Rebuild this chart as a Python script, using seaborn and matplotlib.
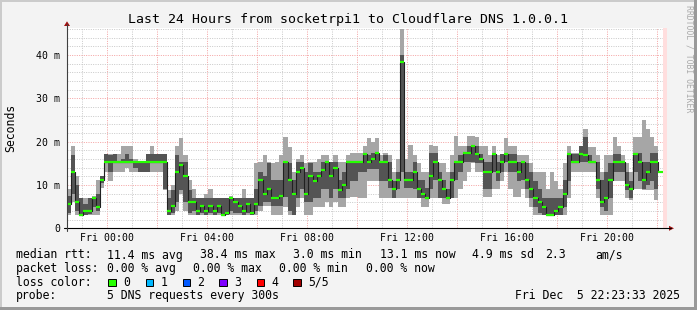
import numpy as np
import matplotlib
matplotlib.use("Agg")
import matplotlib.pyplot as plt
import seaborn as sns
from matplotlib.patches import Polygon, Rectangle
from matplotlib.lines import Line2D

# ---------------- data (10-minute steps starting Thu 22:24) ----------------
step_start_hour = -1.6          # hours relative to Fri 00:00
step_hours = 1.0 / 6.0

rtt_min = [3.1, 6, 3, 3, 3, 3, 3.1, 3.1, 9.2, 13.1, 11, 13.1, 13.1, 13.1, 14, 13.1, 13.1, 13.1, 13.1, 13.1, 13.1, 13.1, 13.1, 8.8,
           3.1, 3.1, 4, 8, 4, 3.1, 3.1, 3.1, 3.1, 3.1, 3.1, 3.1, 3.1, 3.0, 3.1, 3.1, 3.1, 3.1, 3.1, 3.1, 3.1, 3.1, 4, 5.2,
           5.2, 3.1, 3.1, 3.1, 5, 3, 3.1, 5, 7, 3.1, 3.1, 5, 5, 5, 6, 5, 6, 5, 5, 7, 7.2, 7.2, 7, 7,
           11, 11, 11, 6.9, 6.9, 6.9, 6.9, 6.9, 7, 6.9, 6.9, 6.9, 6.9, 5, 5, 6.9, 6.9, 6.9, 5.5, 5.5, 6.9, 7, 9, 11,
           13.1, 15, 13, 13, 7.2, 7.2, 9, 9, 11, 13.1, 9, 7.2, 7.2, 9, 7.1, 5, 3.1, 3.1, 3.1, 3.0, 3.0, 3.1, 3.1, 3.1,
           7, 13.1, 13.1, 13.1, 13.1, 13.1, 13.1, 7, 3.1, 3.1, 3.1, 11, 11, 11, 7.1, 6.5, 9, 9, 8.8, 8.8, 8.8, 6.5, 6.5, np.nan]
rtt_q1 = [3.5, 8, 4, 3.1, 3.1, 3.2, 5, 4, 10.5, 15, 13.1, 15.2, 15, 15.2, 15.2, 15.2, 14, 13.1, 13.1, 13.1, 15.2, 15.2, 15, 9,
          3.1, 3.5, 6, 8.8, 6, 3.5, 4, 3.1, 3.5, 3.1, 3.5, 3.1, 3.5, 3.1, 3.1, 4, 3.5, 3.5, 3.1, 3.5, 3.1, 4, 5.2, 6,
          6, 5.2, 5.2, 5.2, 7.3, 4, 3.1, 7, 9, 6, 6, 7, 7, 9, 9, 7, 9, 7, 7, 9, 11, 11, 13.1, 13.1,
          13.8, 13.8, 13.8, 11, 11, 9.2, 7, 9, 13, 9.2, 9.2, 9, 7.1, 6.9, 6.9, 9, 11.2, 7, 6.9, 6.9, 7, 11.2, 13, 15.2,
          15.2, 15.2, 15, 15, 9, 9, 13.1, 11, 13.1, 15.2, 13.1, 13.1, 11, 11.2, 9, 7, 5, 3.5, 3.1, 3.1, 3.1, 3.1, 3.1, 5,
          11, 15, 15, 15.2, 15.2, 15, 15, 9, 5, 4, 7, 13.1, 13.1, 13.1, 8.8, 7, 13, 11, 9, 10, 11, 9, 9, np.nan]
rtt_median = [5.5, 13, 6, 3.1, 4, 4, 7, 5, 11.2, 15.2, 15.2, 15.2, 15.2, 15.2, 15.2, 15.2, 15.2, 15.2, 15.2, 15.2, 15.2, 15.2, 15.2, 15.2,
              4, 5.2, 13, 14.5, 12, 6, 6, 4, 5.2, 4, 5.2, 4, 5.2, 3.1, 3.5, 7.1, 6, 5.2, 4, 5.5, 3.5, 5.5, 11.2, 8,
              9, 7.1, 7.1, 7.5, 15.2, 11.2, 8, 13.1, 14, 8, 12, 11, 12, 13.5, 15.2, 12, 14, 8.8, 10, 15.2, 15.2, 15.2, 15.2, 17.2,
              15.2, 16, 17.3, 15.2, 15.2, 11.2, 9.1, 11.2, 38.4, 11.2, 11.2, 13.1, 9.1, 8, 7.1, 12, 15.2, 11.2, 9, 7.1, 11.2, 15.2, 15.2, 17.3,
              17.3, 19, 17.2, 16, 13.1, 13.1, 17.2, 13.1, 15.2, 17.2, 15.2, 15.2, 13.1, 15.2, 11.2, 9, 7.1, 6, 5, 3.1, 3.1, 4, 5, 8,
              17.1, 15.2, 15.2, 17.1, 17, 15.2, 15.2, 11.2, 6, 7, 11.2, 15.2, 15.2, 15.2, 10, 9, 17.1, 15.2, 11.2, 13.1, 15.2, 15.2, 13.1, np.nan]
rtt_q3 = [7.5, 17, 10, 6.9, 5.5, 6.9, 7.1, 8, 12, 17.2, 17, 17.2, 15.5, 16, 17.2, 16, 15.2, 15.3, 15.3, 17.2, 17.2, 17.2, 17.2, 17.2,
          7, 8.8, 17, 15.2, 15.2, 8.8, 7, 7, 7.1, 7.1, 7.1, 7.1, 6.9, 6.9, 6.9, 7.1, 7.1, 6.9, 7.1, 7.1, 6.9, 9, 13, 12,
          15, 11.2, 11.2, 11.2, 15.2, 15, 11.2, 15.2, 15.2, 13.1, 15, 13.1, 13.1, 15.2, 15.2, 15.2, 15.2, 11.2, 13, 15.2, 15.2, 15.5, 15.2, 17.3,
          17, 17.3, 17.3, 15.2, 17, 15.2, 11, 13, 40, 13.1, 13.1, 15.2, 11.2, 11.2, 9.2, 17.3, 17.3, 13.1, 11.2, 9, 13.1, 15.2, 17, 17.3,
          19, 19, 19, 17.2, 15.2, 15.2, 17.2, 15.2, 17.2, 17.2, 17.2, 17.2, 15.2, 15.2, 15, 13, 11, 9, 7.1, 7.1, 7.1, 7.1, 7.1, 11.2,
          17.2, 17.2, 17.2, 19, 21, 17, 15.5, 15.2, 11.2, 13, 15, 17.2, 17.2, 15.2, 13.1, 11, 17.3, 17.3, 15.2, 15.2, 17.3, 17.3, 15.2, np.nan]
rtt_max = [9, 19, 12, 7, 6.9, 6.9, 7.5, 11.2, 11.5, 17.2, 17.2, 17.2, 17.2, 19, 19, 19, 16, 15.5, 15.5, 17.2, 19, 17.2, 17.2, 17.2,
           8.8, 10, 19, 20.8, 17, 11.2, 9, 7, 7.1, 8, 9, 7.1, 7.1, 7.1, 7.1, 7.5, 7.1, 7.1, 9, 7.1, 7.1, 15, 15.2, 17,
           15.2, 15, 15.2, 17, 21, 18.8, 13, 16, 17, 15, 15.2, 15.2, 16, 17, 17, 15.2, 17, 15.2, 15.2, 17, 17.3, 17.3, 17.3, 19,
           20.8, 20, 20.8, 17, 17.3, 17, 13, 16, 46, 16, 19.2, 17, 15, 13.1, 13, 19.2, 19, 15, 15, 13.1, 17, 21.2, 19, 19,
           21.2, 21.2, 21, 19, 19, 17, 19, 17, 17.2, 20.8, 19, 19, 17, 17, 17, 15, 13, 13, 13, 9, 13, 11, 9, 15,
           19, 17.3, 17.3, 19, 23, 18.8, 18.8, 17, 13, 17, 17, 21, 19, 17, 15, 13.1, 21, 21, 25, 23, 21, 19, 17, np.nan]

x_tick_hours = [0, 4, 8, 12, 16, 20]
x_tick_labels = ["Fri 00:00", "Fri 04:00", "Fri 08:00", "Fri 12:00", "Fri 16:00", "Fri 20:00"]
y_tick_values = [0, 10, 20, 30, 40]
y_tick_labels = ["0", "10 m", "20 m", "30 m", "40 m"]

loss_labels = ["0", "1", "2", "3", "4", "5/5"]
loss_colors = ["#26ff00", "#00b8ff", "#0059ff", "#7e00ff", "#ff0000", "#a10000"]

# ---------------- figure ----------------
sns.set_style("white")
plt.rcParams["font.family"] = ["DejaVu Sans Mono", "DejaVu Sans"]

W, H = 697, 310
fig = plt.figure(figsize=(W / 100, H / 100), dpi=100, facecolor="#f3f3f3")

def fx(px):
    return px / W

def fy(py):
    return 1 - py / H

L, R, T, B = 66.7, 666.7, 28.3, 228.3
ax = fig.add_axes([fx(L), fy(B), (R - L) / W, (B - T) / H])
ax.set_facecolor("white")
for s in ax.spines.values():
    s.set_visible(False)

x_lo, x_hi = -1.6, 22.4
y_hi = 200 / (43.333 / 10)
ax.set_xlim(x_lo, x_hi)
ax.set_ylim(0, y_hi)

# grid
grid_dash = (0, (1, 1.4))
for h in range(-1, 23):
    if h % 2 == 0:
        ax.axvline(h, color="#f4a0a0", lw=0.7, ls=grid_dash, zorder=0.5)
    else:
        ax.axvline(h, color="#c8c8c8", lw=0.7, ls=grid_dash, zorder=0.5)
for v in np.arange(2, y_hi, 2):
    if int(round(v)) % 10 == 0:
        ax.axhline(v, color="#f4a0a0", lw=0.7, ls=grid_dash, zorder=0.5)
    else:
        ax.axhline(v, color="#c8c8c8", lw=0.7, ls=grid_dash, zorder=0.5)

# smoke
n = len(rtt_median)
t0 = step_start_hour + np.arange(n) * step_hours
te = np.append(t0, t0[-1] + step_hours)

def ext(a):
    a = np.asarray(a, dtype=float)
    return np.append(a, a[-1])

ax.fill_between(te, ext(rtt_min), ext(rtt_max), step="post", color="#a6a6a6",
                lw=0, antialiased=False, zorder=1)
ax.fill_between(te, ext(rtt_q1), ext(rtt_q3), step="post", color="#545454",
                lw=0, antialiased=False, zorder=1.1)

# unknown (current) interval
ax.axvspan(t0[-1], x_hi, color="#ffdede", lw=0, zorder=0.8)

# median: black step line + green (loss 0) segments
med = np.asarray(rtt_median, dtype=float)
sns.lineplot(x=te, y=ext(med), ax=ax, color="#202020", linewidth=0.8,
             drawstyle="steps-post", estimator=None, sort=False, zorder=2)
ax.hlines(med, t0, t0 + step_hours, color=loss_colors[0], lw=1.6, zorder=3)

# ticks
ax.set_xticks(x_tick_hours)
ax.set_xticklabels(x_tick_labels)
ax.set_yticks(y_tick_values)
ax.set_yticklabels(y_tick_labels)
ax.tick_params(axis="x", length=0, labelsize=7.1, pad=3.2, colors="black")
ax.tick_params(axis="y", length=0, labelsize=7.1, pad=4.8, colors="black")
ax.set_xlabel("")
ax.set_ylabel("")
ax.grid(False)

# axis lines and arrows
fig.add_artist(Line2D([fx(64), fx(671)], [fy(B), fy(B)], color="black", lw=0.8))
fig.add_artist(Line2D([fx(L), fx(L)], [fy(230.5), fy(24)], color="#404040", lw=0.8))
fig.add_artist(Polygon([(fx(64), fy(26)), (fx(70), fy(26)), (fx(67), fy(21.3))],
                       closed=True, color="#a01010", lw=0))
fig.add_artist(Polygon([(fx(669), fy(225.8)), (fx(669), fy(230.8)), (fx(674), fy(228.3))],
                       closed=True, color="#a01010", lw=0))

# frame (3D look)
fig.add_artist(Rectangle((0, fy(2)), 1, 2 / H, color="#cbcbcb", lw=0))
fig.add_artist(Rectangle((0, 0), 2 / W, 1, color="#cbcbcb", lw=0))
fig.add_artist(Rectangle((0, 0), 1, 3 / H, color="#999999", lw=0))
fig.add_artist(Rectangle((fx(694), 0), 3 / W, 1, color="#999999", lw=0))

# titles
fig.text(fx(348), fy(19), "Last 24 Hours from socketrpi1 to Cloudflare DNS 1.0.0.1",
         ha="center", va="center", fontsize=9.5, color="black")
fig.text(fx(10.5), fy(128), "Seconds", rotation=90, ha="center", va="center",
         fontsize=8.3, color="black")
fig.text(fx(688.5), fy(5), "RRDTOOL / TOBI OETIKER", rotation=-90, ha="center", va="top",
         fontsize=5.9, color="#aaaaaa")

# legend
fs = 8.3
def put(x, y, s, **kw):
    fig.text(fx(x), fy(y), s, ha=kw.pop("ha", "left"), va="center", fontsize=fs,
             color="black", **kw)

y1, y2, y3, y4 = 255, 268.3, 282.3, 295.7
for s, x in [("median rtt:", 16), ("11.4 ms avg", 107.3), ("38.4 ms max", 200),
             ("3.0 ms min", 293.3), ("13.1 ms now", 380), ("4.9 ms sd", 471.7),
             ("2.3", 545), ("am/s", 595)]:
    put(x, y1, s)
for s, x in [("packet loss:", 16), ("0.00 % avg", 107.3), ("0.00 % max", 193.3),
             ("0.00 % min", 279.3), ("0.00 % now", 366)]:
    put(x, y2, s)
put(16, y3, "loss color:")
sq_x = [108.3, 145.7, 182.7, 219.3, 256.7, 293.3]
lab_x = [123.3, 160.7, 197.3, 234.3, 271, 308.3]
for lab, col, sx, lx in zip(loss_labels, loss_colors, sq_x, lab_x):
    fig.add_artist(Rectangle((fx(sx), fy(y3 + 3.7)), 7.3 / W, 7.3 / H,
                             facecolor=col, edgecolor="black", lw=0.7))
    put(lx, y3, lab)
put(16, y4, "probe:")
put(107.3, y4, "5 DNS requests every 300s")
put(680, y4, "Fri Dec  5 22:23:33 2025", ha="right")

fig.savefig("out.png", dpi=100, facecolor=fig.get_facecolor())
